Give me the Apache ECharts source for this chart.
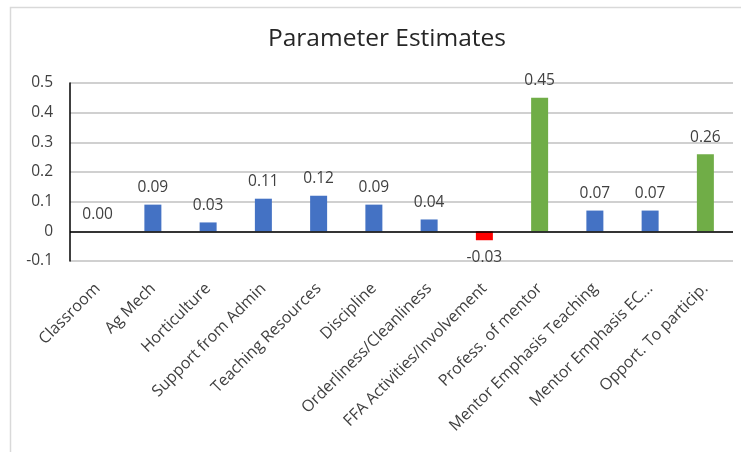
<!DOCTYPE html>
<html>
<head>
<meta charset="utf-8">
<script src="https://cdn.jsdelivr.net/npm/echarts@6/dist/echarts.min.js"></script>
<style>
  html, body { margin: 0; padding: 0; background: #fff; }
  #chart { width: 741px; height: 452px; }
</style>
</head>
<body>
<div id="chart"></div>
<script>
// Parameter estimates per predictor
const categories = [
  'Classroom', 'Ag Mech', 'Horticulture', 'Support from Admin',
  'Teaching Resources', 'Discipline', 'Orderliness/Cleanliness',
  'FFA Activities/Involvement', 'Profess. of mentor',
  'Mentor Emphasis Teaching', 'Mentor Emphasis EC...', 'Opport. To particip.'
];
const estimates = [0.00, 0.09, 0.03, 0.11, 0.12, 0.09, 0.04, -0.03, 0.45, 0.07, 0.07, 0.26];
const highlighted = ['Profess. of mentor', 'Opport. To particip.'];
const yTicks = { min: -0.1, max: 0.5, step: 0.1 };

const BLUE = '#4472C4', GREEN = '#70AD47', RED = '#FF0000';
const TEXT = '#404040';
const FONT = 'Open Sans';

const barData = estimates.map((v, i) => ({
  value: v,
  itemStyle: { color: v < 0 ? RED : (highlighted.includes(categories[i]) ? GREEN : BLUE) },
  label: { position: v < 0 ? 'bottom' : 'top' }
}));

const chart = echarts.init(document.getElementById('chart'), null, { renderer: 'canvas' });
chart.setOption({
  animation: false,
  backgroundColor: '#fff',
  graphic: [{
    type: 'rect',
    shape: { x: 10.5, y: 7.5, width: 760, height: 480 },
    style: { fill: 'none', stroke: '#d9d9d9', lineWidth: 1.5 },
    silent: true
  }],
  title: {
    text: 'Parameter Estimates',
    left: 263, top: 22,
    textStyle: { fontFamily: FONT, fontSize: 24.5, fontWeight: 'normal', color: '#262626' }
  },
  grid: { left: 70, right: 8, top: 83, bottom: 191, containLabel: false },
  xAxis: {
    type: 'category',
    data: categories,
    axisLine: { show: false, onZero: false },
    axisTick: { show: false },
    axisLabel: {
      rotate: 45, interval: 0, margin: 25,
      fontFamily: FONT, fontSize: 16, color: TEXT
    }
  },
  yAxis: {
    type: 'value',
    min: yTicks.min, max: yTicks.max, interval: yTicks.step,
    axisLine: { show: true, lineStyle: { color: '#000', width: 1.5 } },
    axisTick: { show: false },
    splitLine: { lineStyle: { color: '#c0c0c0', width: 1.5 } },
    axisLabel: {
      margin: 17,
      fontFamily: FONT, fontSize: 15.5, color: TEXT,
      formatter: v => Math.abs(v) < 1e-9 ? '0' : v.toFixed(1)
    }
  },
  series: [{
    type: 'bar',
    data: barData,
    barWidth: 17,
    label: {
      show: true, distance: 9,
      fontFamily: FONT, fontSize: 15.5, color: TEXT,
      formatter: p => p.value.toFixed(2)
    },
    markLine: {
      silent: true, symbol: 'none',
      label: { show: false },
      lineStyle: { color: '#000', width: 1.5, type: 'solid' },
      data: [{ yAxis: 0 }]
    }
  }]
});
</script>
</body>
</html>
